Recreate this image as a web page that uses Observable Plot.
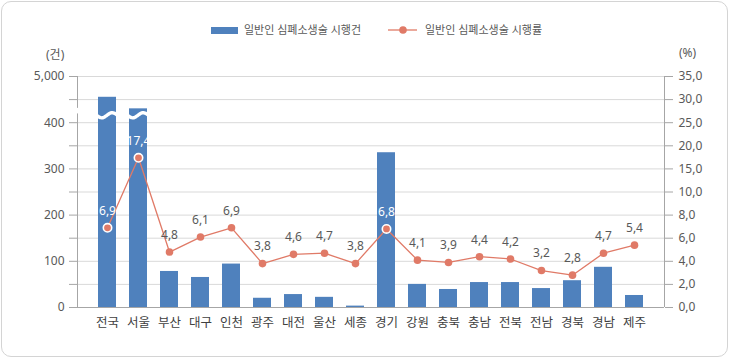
<!DOCTYPE html>
<html><head><meta charset="utf-8">
<script src="https://cdn.jsdelivr.net/npm/d3@7"></script>
<script src="https://cdn.jsdelivr.net/npm/@observablehq/plot@0.6"></script>
<style>
html,body{margin:0;padding:0;background:#fff;}
body{font-family:"Noto Sans","Noto Sans CJK KR",sans-serif;color:#595959;}
#wrap{position:relative;width:730px;height:358px;overflow:hidden;}
#border{position:absolute;left:1px;top:1px;width:727px;height:356px;box-sizing:border-box;border:1px solid #d4d4d4;border-radius:10px;}
#chart{position:absolute;left:0;top:0;}
.lg{position:absolute;font-size:11px;line-height:14px;white-space:nowrap;color:#595959;}
.unit{position:absolute;font-size:12px;line-height:14px;color:#595959;white-space:nowrap;}
</style>
</head><body>
<div id="wrap">
  <div id="border"></div>
  <div id="chart"></div>
  <div id="legend"></div>
  <div class="unit" id="unitL" style="left:46px;top:48px;"></div>
  <div class="unit" id="unitR" style="left:679px;top:46px;"></div>
</div>
<script>
// ---- data ----
const regions = ["전국","서울","부산","대구","인천","광주","대전","울산","세종","경기","강원","충북","충남","전북","전남","경북","경남","제주"];
const cases = [905, 430, 78, 65, 94, 20, 28, 22, 3, 335, 50, 39, 54, 54, 41, 58, 87, 26];
const rates = [6.9, 17.4, 4.8, 6.1, 6.9, 3.8, 4.6, 4.7, 3.8, 6.8, 4.1, 3.9, 4.4, 4.2, 3.2, 2.8, 4.7, 5.4];
const leftTickValues = [0, 50, 100, 150, 200, 250, 300, 350, 400, 450, 5000];
const leftTickLabels = ["0", "", "100", "", "200", "", "300", "", "400", "", "5,000"];
const rightTickValues = [0, 2, 4, 6, 8, 10, 15, 20, 25, 30, 35];
const rightTickLabels = ["0,0", "2,0", "4,0", "6,0", "8,0", "10,0", "15,0", "20,0", "25,0", "30,0", "35,0"];
const brokenRegions = ["전국", "서울"];
const highlightRegions = ["전국", "서울", "경기"];
const breakValue = 415;
const seriesNames = ["일반인 심폐소생술 시행건", "일반인 심폐소생술 시행률"];
const unitLabels = ["(건)", "(%)"];

// ---- style ----
const barColor = "#4F81BD";
const lineColor = "#E07A67";
const textColor = "#595959";
const axisColor = "#a6a6a6";
const gridColor = "#d9d9d9";

// piecewise (broken) axis mappings onto a shared 0..10 slot scale
const leftSlot = d3.scaleLinear(leftTickValues.slice(-3, -1).length ? [0, 450, 5000] : [0, 1], [0, 9, 10]);
const rightSlot = d3.scaleLinear([0, 10, 35], [0, 5, 10]);

const data = regions.map((r, i) => ({region: r, cases: cases[i], rate: rates[i]}));
const fmt = v => v.toFixed(1).replace(".", ",");

function waveMark(index, scales, values, dimensions) {
  const x = scales.x, y = scales.y;
  const bw = x.bandwidth ? x.bandwidth() : (scales.scales && scales.scales.x.bandwidth) || 18;
  const g = d3.create("svg:g");
  const cy = y(leftSlot(breakValue));
  for (const r of brokenRegions) {
    const x0 = x(r) - 1.5, w = bw + 3;
    const pts = d3.range(0, 1.0001, 0.04).map(t => [x0 + t * w, cy + 2.6 * Math.sin(2 * Math.PI * t)]);
    g.append("path").attr("d", d3.line().curve(d3.curveBasis)(pts))
      .attr("fill", "none").attr("stroke", "#fff").attr("stroke-width", 3.4);
  }
  return g.node();
}

function axisLines(index, scales, values, dimensions) {
  const y = scales.y;
  const {width, marginLeft, marginRight} = dimensions;
  const g = d3.create("svg:g").attr("stroke", axisColor).attr("stroke-width", 1);
  const xl = marginLeft + 0.5, xr = width - marginRight + 0.5;
  g.append("line").attr("x1", xl).attr("x2", xl).attr("y1", y(0)).attr("y2", y(8.38));
  g.append("line").attr("x1", xl).attr("x2", xl).attr("y1", y(8.62)).attr("y2", y(10));
  g.append("line").attr("x1", xr).attr("x2", xr).attr("y1", y(0)).attr("y2", y(10));
  return g.node();
}

const chart = Plot.plot({
  width: 730,
  height: 358,
  marginTop: 76,
  marginBottom: 51,
  marginLeft: 77,
  marginRight: 66,
  style: {fontFamily: '"Noto Sans","Noto Sans CJK KR",sans-serif', fontSize: "12px", color: textColor, background: "transparent"},
  x: {domain: regions, paddingInner: 0.42, paddingOuter: 0.65, label: null},
  y: {domain: [0, 10], label: null},
  marks: [
    Plot.ruleY(leftTickValues.slice(1).map(leftSlot), {stroke: gridColor, strokeWidth: 1}),
    Plot.barY(data, {x: "region", y: d => leftSlot(d.cases), fill: barColor}),
    waveMark,
    Plot.ruleY([0], {stroke: axisColor}),
    axisLines,
    Plot.axisY({anchor: "left", ticks: leftTickValues.map(leftSlot), tickFormat: d => leftTickLabels[Math.round(d)],
      tickSize: 8, tickPadding: 5, stroke: axisColor, fill: textColor, fontSize: 12, label: null}),
    Plot.axisY({anchor: "right", ticks: rightTickValues.map(rightSlot), tickFormat: d => rightTickLabels[Math.round(d)],
      tickSize: 8, tickPadding: 6, stroke: axisColor, fill: textColor, fontSize: 12, label: null}),
    Plot.axisX({tickSize: 0, tickPadding: 11, fill: "#404040", fontSize: 12.5, label: null}),
    Plot.line(data, {x: "region", y: d => rightSlot(d.rate), stroke: lineColor, strokeWidth: 1.3}),
    Plot.dot(data.filter(d => !highlightRegions.includes(d.region)), {x: "region", y: d => rightSlot(d.rate), r: 3.8, fill: lineColor}),
    Plot.dot(data.filter(d => highlightRegions.includes(d.region)), {x: "region", y: d => rightSlot(d.rate), r: 4.2, fill: lineColor, stroke: "#fff", strokeWidth: 1.6}),
    Plot.text(data.filter(d => !highlightRegions.includes(d.region)), {x: "region", y: d => rightSlot(d.rate), text: d => fmt(d.rate), dy: -17, fill: textColor, fontSize: 12}),
    Plot.text(data.filter(d => highlightRegions.includes(d.region)), {x: "region", y: d => rightSlot(d.rate), text: d => fmt(d.rate), dy: -17, fill: "#fff", fontSize: 12})
  ]
});
document.getElementById("chart").appendChild(chart);

// legend
const lg = document.getElementById("legend");
lg.innerHTML =
  `<div style="position:absolute;left:211px;top:27px;width:27px;height:7px;background:${barColor}"></div>` +
  `<div class="lg" style="left:244px;top:23px;">${seriesNames[0]}</div>` +
  `<svg style="position:absolute;left:386px;top:24px" width="34" height="12"><line x1="2" x2="31" y1="6" y2="6" stroke="${lineColor}" stroke-width="1.3"/><circle cx="17" cy="6" r="3.8" fill="${lineColor}"/></svg>` +
  `<div class="lg" style="left:425px;top:23px;">${seriesNames[1]}</div>`;
document.getElementById("unitL").textContent = unitLabels[0];
document.getElementById("unitR").textContent = unitLabels[1];
</script>
</body></html>
